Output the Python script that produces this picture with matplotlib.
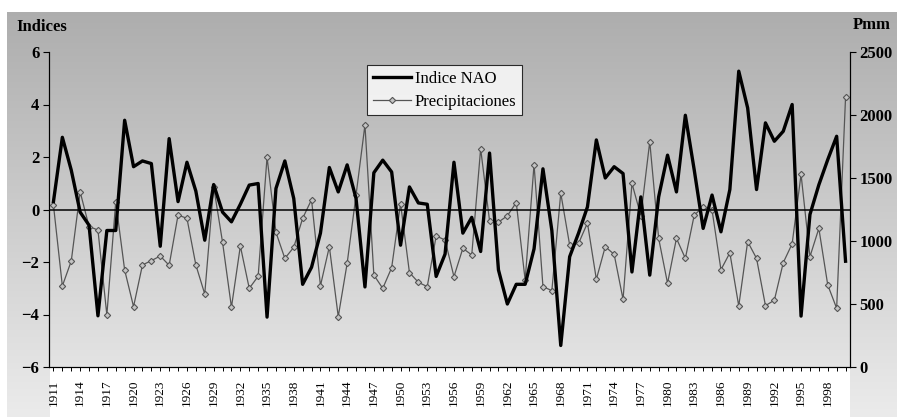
import numpy as np
import matplotlib
matplotlib.use("Agg")
import matplotlib.pyplot as plt

years = list(range(1911, 2001))

nao = [0.3, 2.75, 1.5, -0.1, -0.6, -4.05, -0.8, -0.8, 3.4, 1.63,
       1.85, 1.75, -1.4, 2.7, 0.3, 1.8, 0.7, -1.17, 0.95, -0.1,
       -0.47, 0.2, 0.93, 0.99, -4.1, 0.8, 1.85, 0.42, -2.85, -2.2,
       -0.9, 1.6, 0.67, 1.7, 0.42, -2.95, 1.4, 1.88, 1.43, -1.36,
       0.86, 0.25, 0.2, -2.55, -1.7, 1.8, -0.9, -0.3, -1.6, 2.15,
       -2.3, -3.6, -2.85, -2.85, -1.5, 1.55, -0.8, -5.18, -1.8, -0.9,
       0.1, 2.65, 1.2, 1.63, 1.37, -2.38, 0.48, -2.5, 0.48, 2.07,
       0.67, 3.59, 1.5, -0.72, 0.55, -0.85, 0.76, 5.27, 3.87, 0.76,
       3.3, 2.6, 2.98, 4.0, -4.06, -0.19, 0.94, 1.9, 2.79, -1.97]

precip = [1285, 643, 841, 1390, 1115, 1087, 413, 1312, 770, 479,
          810, 844, 881, 807, 1206, 1180, 810, 579, 1431, 990,
          474, 960, 624, 720, 1665, 1069, 862, 950, 1180, 1328,
          645, 955, 400, 823, 1365, 1921, 730, 624, 788, 1297,
          749, 672, 638, 1040, 1008, 717, 942, 889, 1733, 1160,
          1150, 1200, 1305, 690, 1607, 638, 606, 1380, 968, 981,
          1143, 696, 955, 894, 537, 1458, 1200, 1788, 1021, 664,
          1021, 862, 1206, 1270, 1245, 772, 906, 484, 995, 862,
          487, 530, 828, 978, 1529, 876, 1100, 651, 466, 2140]

serif = ["Liberation Serif", "DejaVu Serif"]
plt.rcParams["font.family"] = serif

W, H = 897, 417
fig = plt.figure(figsize=(W / 100, H / 100), dpi=100)

# gray frame behind the chart, fading downwards
bg = fig.add_axes([0, 0, 1, 1], zorder=-10)
yy = np.arange(H)[:, None] * np.ones((1, W))
xx = np.ones((H, 1)) * np.arange(W)[None, :]
g = 0.68 + 0.24 * np.clip((yy - 12) / 400, 0, 1)
g[(yy < 12) | (xx < 7)] = 1.0
g[(yy > 367) & (xx > 49) & (xx < 850)] = 1.0
bg.imshow(np.dstack([g, g, g]), aspect="auto", extent=(0, W, H, 0))
bg.axis("off")

left, right, top, bottom = 49, 850, 52, 367
ax = fig.add_axes([left / W, 1 - bottom / H, (right - left) / W, (bottom - top) / H])
ax2 = ax.twinx()

x = np.arange(len(years))
p_line, = ax2.plot(x, precip, color="#555555", lw=0.9, marker="D", ms=3.2,
                   mfc="#c4c4c4", mec="#555555", mew=0.8, label="Precipitaciones")
n_line, = ax.plot(x, nao, color="black", lw=2.4, label="Indice NAO")
ax.axhline(0, color="black", lw=1.1)

ax.set_zorder(ax2.get_zorder() + 1)
ax.patch.set_visible(False)
ax2.set_facecolor("white")

ax.set_xlim(-0.5, len(years) - 0.5)
ax.set_ylim(-6, 6)
ax2.set_ylim(0, 2500)

ax.set_yticks(range(-6, 7, 2))
ax2.set_yticks(range(0, 2501, 500))
ax.set_xticks(x[::3])
ax.set_xticklabels([str(y) for y in years[::3]], rotation=90, fontsize=9.5)
ax.set_xticks(x, minor=True)

for a in (ax, ax2):
    for s in a.spines.values():
        s.set_linewidth(0.8)
    a.spines["top"].set_visible(False)
ax.tick_params(axis="y", labelsize=12, length=4, width=0.8, pad=3)
ax2.tick_params(axis="y", labelsize=12, length=4, width=0.8, pad=3)
ax.tick_params(axis="x", which="both", length=3, width=0.7, pad=6)
for lab in ax.get_yticklabels() + ax2.get_yticklabels():
    lab.set_fontweight("bold")

fig.text(16 / W, 1 - 27 / H, "Indices", fontsize=12, fontweight="bold",
         ha="left", va="center")
fig.text(853 / W, 1 - 25 / H, "Pmm", fontsize=12, fontweight="bold",
         ha="left", va="center")

leg = ax.legend(handles=[n_line, p_line], loc="upper left",
                bbox_to_anchor=(0.387, 0.985), fontsize=12, frameon=True,
                fancybox=False, edgecolor="black", handlelength=2.3,
                handletextpad=0.2, borderpad=0.35, labelspacing=0.4)
leg.get_frame().set_linewidth(0.8)

fig.savefig("out.png", dpi=100)
